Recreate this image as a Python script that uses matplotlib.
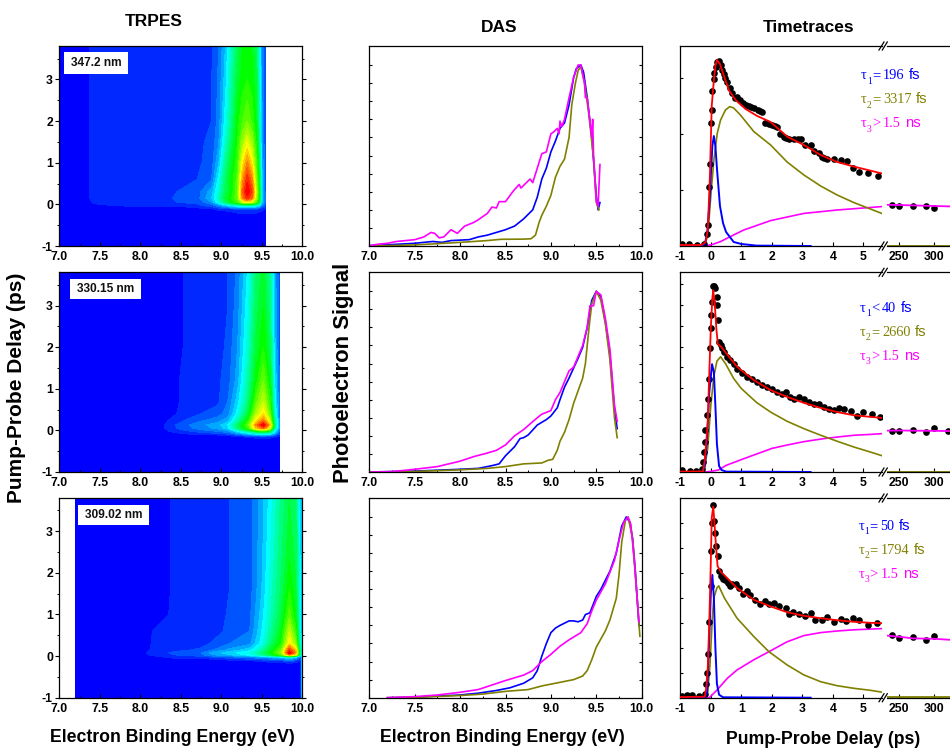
import matplotlib
matplotlib.use("Agg")
import matplotlib.pyplot as plt
import numpy as np
from matplotlib.colors import LinearSegmentedColormap
from matplotlib.lines import Line2D
from matplotlib.patches import Rectangle
from matplotlib.ticker import MultipleLocator

plt.rcParams['font.family'] = ['Liberation Sans', 'DejaVu Sans']
plt.rcParams['axes.unicode_minus'] = False

W, H = 950, 748

# --- TRPES maps: delay rows, energy columns, intensity (0..1) ---
map1_energy = [7.0, 7.3, 7.45, 7.9, 8.3, 8.45, 8.7, 8.88, 8.97, 9.05, 9.13, 9.2, 9.26, 9.32, 9.38, 9.43, 9.47, 9.5, 9.54]
map1_delay = [-1, -0.3, -0.12, -0.03, 0.05, 0.15, 0.3, 0.6, 1, 1.5, 2, 3, 3.8]
map1_z = [
    [0, 0, 0, 0, 0, 0, 0, 0, 0, 0, 0, 0, 0, 0, 0, 0, 0, 0, 0],
    [0, 0, 0, 0, 0, 0, 0, 0, 0, 0, 0, 0.01, 0.01, 0.01, 0.01, 0.01, 0.01, 0, 0],
    [0, 0, 0, 0, 0, 0, 0.02, 0.03, 0.05, 0.05, 0.06, 0.07, 0.07, 0.07, 0.07, 0.07, 0.06, 0.05, 0.04],
    [0, 0.01, 0.03, 0.05, 0.05, 0.05, 0.07, 0.1, 0.15, 0.2, 0.25, 0.28, 0.3, 0.3, 0.3, 0.28, 0.22, 0.14, 0.1],
    [0, 0.02, 0.05, 0.06, 0.06, 0.08, 0.09, 0.16, 0.28, 0.4, 0.5, 0.55, 0.68, 0.74, 0.68, 0.58, 0.42, 0.22, 0.12],
    [0, 0.03, 0.05, 0.07, 0.06, 0.09, 0.1, 0.2, 0.32, 0.45, 0.52, 0.6, 0.85, 0.94, 0.88, 0.66, 0.47, 0.24, 0.12],
    [0, 0.03, 0.05, 0.07, 0.06, 0.08, 0.1, 0.18, 0.3, 0.42, 0.5, 0.6, 0.88, 1.0, 0.92, 0.68, 0.48, 0.24, 0.12],
    [0, 0.03, 0.05, 0.07, 0.06, 0.06, 0.08, 0.12, 0.26, 0.4, 0.5, 0.58, 0.82, 0.95, 0.85, 0.62, 0.44, 0.22, 0.1],
    [0, 0.03, 0.05, 0.07, 0.06, 0.06, 0.07, 0.1, 0.2, 0.36, 0.47, 0.55, 0.74, 0.85, 0.75, 0.58, 0.4, 0.2, 0.1],
    [0, 0.03, 0.05, 0.07, 0.06, 0.06, 0.07, 0.09, 0.16, 0.3, 0.42, 0.52, 0.64, 0.72, 0.64, 0.52, 0.36, 0.18, 0.09],
    [0, 0.03, 0.05, 0.07, 0.05, 0.05, 0.06, 0.08, 0.14, 0.26, 0.38, 0.5, 0.56, 0.6, 0.55, 0.48, 0.33, 0.17, 0.09],
    [0, 0.03, 0.05, 0.07, 0.05, 0.05, 0.06, 0.08, 0.13, 0.22, 0.35, 0.45, 0.5, 0.52, 0.5, 0.45, 0.3, 0.16, 0.08],
    [0, 0.03, 0.05, 0.06, 0.05, 0.05, 0.05, 0.07, 0.12, 0.2, 0.32, 0.42, 0.48, 0.5, 0.47, 0.42, 0.28, 0.15, 0.08],
]

map2_energy = [7.0, 8.25, 8.35, 8.55, 8.75, 8.95, 9.08, 9.2, 9.33, 9.43, 9.52, 9.6, 9.66, 9.72]
map2_delay = [-1, -0.22, -0.15, -0.05, 0.05, 0.13, 0.25, 0.4, 0.7, 1.2, 2, 3, 3.8]
map2_z = [
    [0, 0, 0, 0, 0, 0, 0, 0, 0, 0, 0, 0, 0, 0],
    [0, 0, 0, 0, 0, 0, 0, 0.01, 0.01, 0.01, 0.01, 0.01, 0.01, 0.01],
    [0, 0, 0, 0, 0, 0, 0.02, 0.03, 0.06, 0.07, 0.08, 0.07, 0.05, 0.04],
    [0, 0, 0.03, 0.06, 0.08, 0.1, 0.12, 0.2, 0.28, 0.35, 0.38, 0.35, 0.22, 0.1],
    [0, 0.02, 0.06, 0.1, 0.14, 0.17, 0.22, 0.38, 0.55, 0.78, 0.88, 0.7, 0.34, 0.14],
    [0, 0.02, 0.06, 0.11, 0.15, 0.18, 0.24, 0.4, 0.58, 0.85, 1.0, 0.8, 0.38, 0.15],
    [0, 0, 0.04, 0.08, 0.11, 0.14, 0.18, 0.32, 0.52, 0.74, 0.85, 0.68, 0.34, 0.14],
    [0, 0, 0.02, 0.06, 0.08, 0.1, 0.14, 0.26, 0.44, 0.66, 0.76, 0.6, 0.3, 0.13],
    [0, 0, 0.02, 0.05, 0.06, 0.07, 0.12, 0.22, 0.38, 0.58, 0.68, 0.54, 0.26, 0.12],
    [0, 0, 0.02, 0.05, 0.05, 0.07, 0.1, 0.18, 0.34, 0.5, 0.6, 0.48, 0.24, 0.11],
    [0, 0, 0, 0.045, 0.05, 0.06, 0.09, 0.16, 0.3, 0.45, 0.52, 0.42, 0.21, 0.1],
    [0, 0, 0, 0.045, 0.05, 0.055, 0.08, 0.14, 0.27, 0.42, 0.48, 0.38, 0.19, 0.09],
    [0, 0, 0, 0.045, 0.05, 0.05, 0.08, 0.13, 0.25, 0.4, 0.46, 0.36, 0.18, 0.09],
]

map3_energy = [7.2, 8.0, 8.15, 8.4, 8.75, 8.9, 9.1, 9.35, 9.5, 9.62, 9.74, 9.84, 9.92, 9.98, 9.995]
map3_delay = [-1, -0.2, -0.12, -0.03, 0.03, 0.08, 0.15, 0.3, 0.6, 1, 1.6, 2.5, 3.8]
map3_z = [
    [0, 0, 0, 0, 0, 0, 0, 0, 0, 0, 0, 0, 0, 0.02, 0.22],
    [0, 0, 0, 0, 0, 0, 0, 0, 0, 0, 0, 0.01, 0.01, 0.02, 0.22],
    [0, 0, 0, 0, 0, 0, 0.02, 0.03, 0.05, 0.06, 0.07, 0.1, 0.07, 0.03, 0.22],
    [0, 0, 0.02, 0.05, 0.06, 0.08, 0.1, 0.13, 0.15, 0.18, 0.2, 0.25, 0.2, 0.08, 0.22],
    [0, 0.02, 0.05, 0.08, 0.11, 0.16, 0.2, 0.26, 0.35, 0.45, 0.58, 0.85, 0.72, 0.28, 0.3],
    [0, 0.02, 0.06, 0.085, 0.12, 0.18, 0.22, 0.28, 0.38, 0.5, 0.64, 1.0, 0.84, 0.32, 0.3],
    [0, 0, 0.05, 0.07, 0.085, 0.12, 0.17, 0.22, 0.33, 0.47, 0.6, 0.92, 0.78, 0.3, 0.3],
    [0, 0, 0.045, 0.06, 0.07, 0.085, 0.12, 0.15, 0.26, 0.4, 0.52, 0.76, 0.62, 0.26, 0.25],
    [0, 0, 0.04, 0.05, 0.06, 0.065, 0.09, 0.12, 0.24, 0.36, 0.48, 0.68, 0.54, 0.24, 0.22],
    [0, 0, 0.02, 0.045, 0.05, 0.06, 0.085, 0.11, 0.22, 0.33, 0.44, 0.58, 0.48, 0.23, 0.22],
    [0, 0, 0, 0.045, 0.05, 0.06, 0.08, 0.1, 0.2, 0.31, 0.41, 0.52, 0.45, 0.22, 0.22],
    [0, 0, 0, 0.045, 0.05, 0.055, 0.08, 0.1, 0.19, 0.29, 0.39, 0.47, 0.42, 0.21, 0.22],
    [0, 0, 0, 0.045, 0.05, 0.055, 0.08, 0.1, 0.18, 0.27, 0.37, 0.44, 0.4, 0.2, 0.22],
]

map_labels = ["347.2 nm", "330.15 nm", "309.02 nm"]

# --- DAS curves, each as (energy, signal) ---
das1_blue_e = [7.0, 7.25, 7.5, 7.7, 7.8, 7.9, 8.1, 8.2, 8.3, 8.4, 8.5, 8.6, 8.7, 8.8, 8.85, 8.9, 8.95, 9.0, 9.05, 9.1, 9.15, 9.2, 9.25, 9.28, 9.33, 9.36, 9.4, 9.45, 9.5, 9.52, 9.54]
das1_blue_y = [0.002, 0.008, 0.015, 0.025, 0.02, 0.03, 0.035, 0.05, 0.06, 0.075, 0.09, 0.11, 0.15, 0.2, 0.27, 0.37, 0.43, 0.52, 0.58, 0.65, 0.68, 0.78, 0.93, 0.98, 1.0, 0.96, 0.82, 0.6, 0.28, 0.2, 0.24]
das1_mag_e = [7.0, 7.1, 7.2, 7.3, 7.4, 7.5, 7.6, 7.68, 7.72, 7.77, 7.82, 7.9, 7.97, 8.05, 8.15, 8.2, 8.3, 8.35, 8.4, 8.43, 8.5, 8.58, 8.65, 8.67, 8.73, 8.77, 8.8, 8.85, 8.9, 8.95, 9.0, 9.03, 9.07, 9.09, 9.1, 9.12, 9.15, 9.2, 9.25, 9.3, 9.33, 9.37, 9.38, 9.4, 9.45, 9.46, 9.47, 9.5, 9.52, 9.54]
das1_mag_y = [0.002, 0.01, 0.015, 0.025, 0.03, 0.035, 0.05, 0.075, 0.07, 0.045, 0.05, 0.09, 0.07, 0.11, 0.13, 0.145, 0.18, 0.215, 0.21, 0.245, 0.245, 0.3, 0.34, 0.32, 0.35, 0.37, 0.35, 0.43, 0.51, 0.52, 0.62, 0.63, 0.65, 0.62, 0.69, 0.66, 0.7, 0.82, 0.93, 1.0, 1.0, 0.9, 0.82, 0.82, 0.6, 0.7, 0.5, 0.25, 0.22, 0.45]
das1_oli_e = [7.0, 7.5, 8.0, 8.3, 8.45, 8.7, 8.78, 8.83, 8.87, 8.9, 8.95, 9.0, 9.05, 9.1, 9.15, 9.2, 9.23, 9.27, 9.3, 9.33, 9.37, 9.42, 9.47, 9.5, 9.53]
das1_oli_y = [0, 0.006, 0.02, 0.03, 0.037, 0.038, 0.04, 0.06, 0.13, 0.17, 0.22, 0.28, 0.38, 0.44, 0.48, 0.6, 0.78, 0.9, 0.97, 0.99, 0.9, 0.72, 0.48, 0.24, 0.2]

das2_blue_e = [7.0, 7.5, 8.0, 8.2, 8.35, 8.43, 8.5, 8.6, 8.66, 8.7, 8.75, 8.85, 8.95, 9.0, 9.07, 9.1, 9.15, 9.2, 9.3, 9.35, 9.4, 9.45, 9.5, 9.55, 9.6, 9.65, 9.7, 9.73]
das2_blue_y = [0, 0.005, 0.015, 0.02, 0.035, 0.045, 0.09, 0.14, 0.185, 0.19, 0.205, 0.26, 0.29, 0.31, 0.355, 0.4, 0.47, 0.52, 0.63, 0.69, 0.8, 0.95, 1.0, 0.97, 0.83, 0.65, 0.35, 0.24]
das2_mag_e = [7.0, 7.25, 7.5, 7.75, 8.0, 8.15, 8.3, 8.4, 8.5, 8.6, 8.7, 8.78, 8.85, 8.9, 9.0, 9.05, 9.1, 9.15, 9.2, 9.25, 9.3, 9.35, 9.4, 9.43, 9.47, 9.5, 9.55, 9.6, 9.65, 9.7, 9.73]
das2_mag_y = [0, 0.002, 0.015, 0.03, 0.06, 0.085, 0.105, 0.12, 0.15, 0.2, 0.235, 0.27, 0.3, 0.32, 0.34, 0.4, 0.44, 0.5, 0.56, 0.58, 0.64, 0.7, 0.8, 0.92, 0.92, 1.0, 0.98, 0.85, 0.68, 0.37, 0.28]
das2_oli_e = [7.0, 7.5, 8.0, 8.3, 8.5, 8.7, 8.9, 8.97, 9.02, 9.07, 9.1, 9.15, 9.2, 9.25, 9.3, 9.35, 9.38, 9.42, 9.45, 9.5, 9.55, 9.6, 9.65, 9.7, 9.73]
das2_oli_y = [0, 0.003, 0.012, 0.02, 0.03, 0.045, 0.05, 0.065, 0.07, 0.12, 0.17, 0.22, 0.29, 0.38, 0.45, 0.52, 0.6, 0.8, 0.93, 1.0, 0.95, 0.82, 0.62, 0.3, 0.19]

das3_blue_e = [7.2, 7.5, 8.0, 8.2, 8.4, 8.55, 8.7, 8.8, 8.85, 8.9, 8.95, 9.0, 9.05, 9.1, 9.2, 9.25, 9.3, 9.35, 9.38, 9.43, 9.5, 9.55, 9.6, 9.65, 9.72, 9.78, 9.83, 9.87, 9.9, 9.93, 9.97]
das3_blue_y = [0, 0.003, 0.015, 0.025, 0.04, 0.055, 0.08, 0.11, 0.15, 0.23, 0.3, 0.36, 0.385, 0.4, 0.425, 0.425, 0.42, 0.43, 0.46, 0.47, 0.56, 0.6, 0.65, 0.7, 0.8, 0.95, 1.0, 0.97, 0.88, 0.7, 0.4]
das3_mag_e = [7.2, 7.5, 7.75, 8.0, 8.2, 8.35, 8.5, 8.6, 8.7, 8.8, 8.9, 9.0, 9.1, 9.2, 9.33, 9.4, 9.45, 9.5, 9.6, 9.7, 9.75, 9.8, 9.85, 9.88, 9.92, 9.97]
das3_mag_y = [0, 0.006, 0.015, 0.03, 0.045, 0.07, 0.095, 0.11, 0.125, 0.15, 0.2, 0.24, 0.285, 0.32, 0.36, 0.41, 0.48, 0.54, 0.63, 0.76, 0.87, 0.97, 1.0, 0.96, 0.75, 0.42]
das3_oli_e = [7.2, 7.5, 8.0, 8.25, 8.5, 8.75, 8.9, 9.1, 9.25, 9.35, 9.4, 9.45, 9.5, 9.6, 9.65, 9.72, 9.75, 9.78, 9.82, 9.85, 9.9, 9.93, 9.98]
das3_oli_y = [0, 0.002, 0.012, 0.02, 0.035, 0.045, 0.065, 0.085, 0.1, 0.12, 0.15, 0.21, 0.28, 0.37, 0.43, 0.55, 0.68, 0.86, 0.98, 1.0, 0.88, 0.68, 0.34]

# --- Time traces, signal as fraction of the panel height ---
dots1_t = [-0.96, -0.72, -0.45, -0.23, -0.14, -0.10, -0.07, -0.03, 0.01, 0.04, 0.05, 0.10, 0.12, 0.16, 0.21, 0.26, 0.32, 0.37, 0.42, 0.48, 0.54, 0.62, 0.70, 0.78, 0.86, 0.97, 1.05, 1.14, 1.25, 1.33, 1.41, 1.54, 1.60, 1.68, 1.79, 1.90, 2.01, 2.10, 2.17, 2.28, 2.39, 2.48, 2.56, 2.72, 2.85, 2.96, 3.10, 3.27, 3.38, 3.54, 3.65, 3.72, 3.81, 4.03, 4.27, 4.47, 4.67, 4.86, 5.16, 5.48]
dots1_y = [0.01, 0.008, 0.005, 0.01, 0.06, 0.105, 0.297, 0.408, 0.613, 0.68, 0.777, 0.833, 0.863, 0.897, 0.922, 0.927, 0.905, 0.88, 0.86, 0.838, 0.822, 0.788, 0.763, 0.738, 0.743, 0.73, 0.715, 0.705, 0.70, 0.695, 0.688, 0.68, 0.677, 0.672, 0.617, 0.61, 0.605, 0.60, 0.597, 0.56, 0.547, 0.54, 0.533, 0.537, 0.535, 0.533, 0.505, 0.505, 0.475, 0.467, 0.447, 0.44, 0.435, 0.433, 0.43, 0.427, 0.388, 0.368, 0.365, 0.352]
dots1_late_t = [239, 249, 269, 288, 299.5]
dots1_late_y = [0.203, 0.202, 0.202, 0.2, 0.192]
red1_t = [-1, -0.3, -0.17, -0.1, -0.03, 0.03, 0.1, 0.15, 0.2, 0.3, 0.43, 0.59, 0.81, 1.14, 1.52, 1.96, 2.5, 3.05, 3.6, 4.14, 4.69, 5.23, 5.6]
red1_y = [0.005, 0.005, 0.02, 0.08, 0.35, 0.7, 0.83, 0.9, 0.93, 0.91, 0.85, 0.78, 0.73, 0.685, 0.65, 0.62, 0.547, 0.505, 0.455, 0.42, 0.397, 0.377, 0.363]
blue1_t = [-1, -0.3, -0.2, -0.12, -0.05, 0, 0.05, 0.1, 0.15, 0.2, 0.3, 0.4, 0.5, 0.75, 1, 1.5, 3.27]
blue1_y = [0, 0, 0.01, 0.06, 0.2, 0.35, 0.5, 0.55, 0.5, 0.39, 0.2, 0.115, 0.07, 0.02, 0.01, 0.002, 0]
olive1_t = [-1, -0.3, -0.2, -0.1, 0, 0.1, 0.21, 0.32, 0.48, 0.62, 0.75, 0.97, 1.41, 1.96, 2.5, 3.05, 3.6, 4.14, 4.69, 5.23, 5.6]
olive1_y = [0, 0, 0.01, 0.05, 0.25, 0.43, 0.563, 0.63, 0.68, 0.697, 0.69, 0.655, 0.572, 0.505, 0.42, 0.355, 0.30, 0.255, 0.217, 0.185, 0.163]
mag1_t = [-1, -0.25, 0, 0.32, 0.64, 1.08, 1.96, 3.05, 4.14, 5.6]
mag1_y = [0, 0, 0.005, 0.022, 0.047, 0.08, 0.127, 0.163, 0.18, 0.197]
mag1_late_t = [232, 250, 270, 300, 322]
mag1_late_y = [0.206, 0.205, 0.203, 0.2, 0.198]

dots2_t = [-0.96, -0.69, -0.47, -0.28, -0.26, -0.23, -0.20, -0.18, -0.14, -0.10, -0.07, -0.03, -0.01, 0.01, 0.04, 0.08, 0.10, 0.15, 0.19, 0.21, 0.24, 0.27, 0.32, 0.37, 0.43, 0.54, 0.64, 0.75, 0.86, 1.03, 1.19, 1.36, 1.52, 1.68, 1.85, 2.01, 2.17, 2.34, 2.48, 2.59, 2.72, 2.89, 3.05, 3.21, 3.38, 3.54, 3.70, 3.87, 4.03, 4.20, 4.38, 4.58, 4.78, 4.98, 5.29, 5.56]
dots2_y = [0.008, 0.005, 0.005, 0.017, 0.05, 0.10, 0.15, 0.21, 0.284, 0.368, 0.468, 0.619, 0.719, 0.786, 0.853, 0.933, 0.933, 0.92, 0.875, 0.836, 0.76, 0.652, 0.635, 0.619, 0.599, 0.577, 0.56, 0.543, 0.518, 0.498, 0.477, 0.468, 0.452, 0.438, 0.426, 0.415, 0.401, 0.393, 0.401, 0.376, 0.368, 0.376, 0.368, 0.351, 0.343, 0.343, 0.326, 0.314, 0.309, 0.318, 0.313, 0.304, 0.281, 0.298, 0.289, 0.276]
dots2_late_t = [239, 249, 269, 288, 299.5, 320]
dots2_late_y = [0.206, 0.207, 0.209, 0.2, 0.219, 0.206]
red2_t = [-1, -0.25, -0.2, -0.15, -0.1, -0.05, 0, 0.05, 0.08, 0.13, 0.18, 0.23, 0.32, 0.86, 1.41, 1.96, 2.5, 3.05, 3.6, 4.14, 4.69, 5.23, 5.6]
red2_y = [0.002, 0.003, 0.06, 0.15, 0.25, 0.5, 0.72, 0.87, 0.91, 0.84, 0.72, 0.64, 0.63, 0.527, 0.46, 0.41, 0.376, 0.346, 0.321, 0.30, 0.284, 0.276, 0.271]
blue2_t = [-1, -0.3, -0.2, -0.12, -0.05, 0.04, 0.1, 0.15, 0.2, 0.27, 0.35, 0.5, 3.27]
blue2_y = [0, 0, 0.03, 0.18, 0.4, 0.54, 0.5, 0.33, 0.14, 0.03, 0.01, 0.002, 0]
olive2_t = [-1, -0.3, -0.2, -0.1, 0, 0.1, 0.2, 0.32, 0.48, 0.75, 1.0, 1.5, 1.96, 2.5, 3.05, 3.6, 4.14, 4.69, 5.23, 5.6]
olive2_y = [0, 0, 0.02, 0.12, 0.334, 0.48, 0.555, 0.577, 0.543, 0.468, 0.418, 0.348, 0.30, 0.254, 0.217, 0.184, 0.154, 0.125, 0.10, 0.082]
mag2_t = [-1, -0.2, 0, 0.25, 0.5, 1, 1.5, 2, 2.5, 3.05, 3.7, 4.2, 4.7, 5.2, 5.6]
mag2_y = [0, 0, 0.003, 0.01, 0.033, 0.062, 0.09, 0.118, 0.135, 0.152, 0.167, 0.176, 0.184, 0.188, 0.192]
mag2_late_t = [232, 250, 270, 300, 322]
mag2_late_y = [0.207, 0.208, 0.207, 0.206, 0.205]

dots3_t = [-0.96, -0.78, -0.61, -0.39, -0.2, -0.15, -0.14, -0.10, -0.05, -0.01, 0.01, 0.04, 0.07, 0.11, 0.14, 0.17, 0.23, 0.28, 0.34, 0.40, 0.48, 0.56, 0.62, 0.70, 0.81, 0.92, 1.06, 1.17, 1.30, 1.46, 1.61, 1.77, 1.90, 2.07, 2.23, 2.45, 2.56, 2.70, 2.89, 3.10, 3.27, 3.43, 3.65, 3.81, 4.03, 4.25, 4.44, 4.66, 4.85, 5.15, 5.45]
dots3_y = [0.008, 0.013, 0.015, 0.008, 0.018, 0.067, 0.125, 0.22, 0.38, 0.557, 0.736, 0.875, 0.967, 0.886, 0.825, 0.761, 0.71, 0.632, 0.61, 0.594, 0.587, 0.574, 0.557, 0.569, 0.569, 0.549, 0.518, 0.532, 0.515, 0.49, 0.47, 0.482, 0.468, 0.473, 0.457, 0.448, 0.418, 0.431, 0.42, 0.41, 0.423, 0.39, 0.39, 0.403, 0.381, 0.393, 0.386, 0.398, 0.39, 0.363, 0.373]
dots3_late_t = [239, 249, 269, 288, 299.5]
dots3_late_y = [0.315, 0.301, 0.306, 0.289, 0.311]
red3_t = [-1, -0.2, -0.15, -0.1, -0.05, 0, 0.03, 0.08, 0.13, 0.17, 0.22, 0.32, 0.86, 1.41, 1.96, 2.5, 3.05, 3.6, 4.14, 4.69, 5.23, 5.6]
red3_y = [0.003, 0.005, 0.05, 0.15, 0.38, 0.68, 0.9, 0.958, 0.85, 0.76, 0.66, 0.632, 0.549, 0.49, 0.457, 0.428, 0.41, 0.398, 0.388, 0.38, 0.375, 0.373]
blue3_t = [-1, -0.2, -0.12, -0.05, 0, 0.05, 0.1, 0.15, 0.2, 0.27, 0.4, 3.27]
blue3_y = [0, 0, 0.03, 0.3, 0.52, 0.615, 0.5, 0.25, 0.07, 0.015, 0.002, 0]
olive3_t = [-1, -0.2, -0.1, -0.03, 0.05, 0.1, 0.2, 0.26, 0.32, 0.45, 0.86, 1.41, 1.9, 2.5, 3.05, 3.6, 4.14, 4.69, 5.23, 5.6]
olive3_y = [0, 0, 0.03, 0.16, 0.4, 0.5, 0.55, 0.56, 0.54, 0.498, 0.398, 0.306, 0.231, 0.164, 0.114, 0.08, 0.06, 0.047, 0.037, 0.028]
mag3_t = [-1, -0.05, 0.2, 0.54, 0.86, 1.41, 1.9, 2.5, 3.05, 3.6, 4.14, 4.69, 5.6]
mag3_y = [0, 0, 0.038, 0.097, 0.139, 0.19, 0.23, 0.28, 0.311, 0.326, 0.334, 0.34, 0.346]
mag3_late_t = [232, 250, 270, 300, 322]
mag3_late_y = [0.311, 0.305, 0.297, 0.295, 0.29]

late_base_t = [232, 322.5]
late_base_y = [0.002, 0.002]

tau_signs = [["=", "=", ">"], ["<", "=", ">"], ["=", "=", ">"]]
tau_values = [["196", "3317", "1.5"], ["40", "2660", "1.5"], ["50", "1794", "1.5"]]
tau_units = ["fs", "fs", "ns"]

BLUE = '#0000ff'
OLIVE = '#808000'
MAGENTA = '#ff00ff'
RED = '#ff0000'

row_top = [46, 272.3, 498]
row_bottom = [246, 472, 697.7]
trace_tick_step = [0.28, 0.1047, 0.125]
tau_x = [861, 860, 858.5]
tau_y = [79, 312, 530]
label_box = [(64, 52, 128, 74), (70, 279, 141, 299), (78, 505, 149, 525)]

rainbow = LinearSegmentedColormap.from_list('rainbow5', ['#0000ff', '#00ffff', '#00ff00', '#ffff00', '#ff0000'])
band_levels = np.linspace(0, 1.001, 26)
band_colors = [rainbow(i / 24) for i in range(25)]

fig = plt.figure(figsize=(W / 100, H / 100), dpi=100, facecolor='white')
renderer = fig.canvas.get_renderer()


def px_axes(left, top, right, bottom):
    return fig.add_axes([left / W, 1 - bottom / H, (right - left) / W, (bottom - top) / H])


def fig_text(x, y, s, **kw):
    fig.text(x / W, 1 - y / H, s, ha='center', va='center', fontweight='bold', **kw)


def tidy(ax):
    for sp in ax.spines.values():
        sp.set_linewidth(0.9)
    ax.tick_params(which='major', length=2.6, width=0.8, pad=2, labelsize=8.8)
    ax.tick_params(which='minor', length=1.5, width=0.7)
    ax.tick_params(axis='x', which='both', direction='in', pad=3.5)
    for t in ax.get_xticklabels() + ax.get_yticklabels():
        t.set_fontweight('bold')


def tau_text(x, y, number, sign, value, unit, color):
    # tau, lowered index, then digits in Times and the unit in Arial, as in the original
    fig.text(x / W, 1 - y / H, '\u03c4', color=color, fontsize=10.5, family='Liberation Serif')
    fig.text((x + 6) / W, 1 - (y + 4.5) / H, str(number), color=color, fontsize=7, family='Liberation Serif')
    fig.text((x + 11) / W, 1 - y / H, sign, color=color, fontsize=10.5, family='Liberation Serif')
    t = fig.text((x + 22) / W, 1 - y / H, value, color=color, fontsize=10.3, family='Liberation Serif')
    end = t.get_window_extent(renderer).x1
    fig.text((end + 4.5) / W, 1 - y / H, unit, color=color, fontsize=10.6)


map_energy = [map1_energy, map2_energy, map3_energy]
map_delay = [map1_delay, map2_delay, map3_delay]
map_z = [map1_z, map2_z, map3_z]
das_sets = [
    (das1_blue_e, das1_blue_y, das1_oli_e, das1_oli_y, das1_mag_e, das1_mag_y),
    (das2_blue_e, das2_blue_y, das2_oli_e, das2_oli_y, das2_mag_e, das2_mag_y),
    (das3_blue_e, das3_blue_y, das3_oli_e, das3_oli_y, das3_mag_e, das3_mag_y),
]
trace_sets = [
    (dots1_t, dots1_y, dots1_late_t, dots1_late_y, red1_t, red1_y, blue1_t, blue1_y, olive1_t, olive1_y, mag1_t, mag1_y, mag1_late_t, mag1_late_y),
    (dots2_t, dots2_y, dots2_late_t, dots2_late_y, red2_t, red2_y, blue2_t, blue2_y, olive2_t, olive2_y, mag2_t, mag2_y, mag2_late_t, mag2_late_y),
    (dots3_t, dots3_y, dots3_late_t, dots3_late_y, red3_t, red3_y, blue3_t, blue3_y, olive3_t, olive3_y, mag3_t, mag3_y, mag3_late_t, mag3_late_y),
]

for i in range(3):
    top, bottom = row_top[i], row_bottom[i]

    # TRPES map
    ax = px_axes(59.3, top, 302.3, bottom)
    ax.contourf(map_energy[i], map_delay[i], np.array(map_z[i]), levels=band_levels, colors=band_colors, antialiased=False)
    ax.set_xlim(7, 10)
    ax.set_ylim(-1, 3.8)
    ax.set_xticks([7, 7.5, 8, 8.5, 9, 9.5, 10])
    ax.set_xticklabels(['7.0', '7.5', '8.0', '8.5', '9.0', '9.5', '10.0'])
    ax.set_yticks([-1, 0, 1, 2, 3])
    ax.xaxis.set_minor_locator(MultipleLocator(0.25))
    ax.yaxis.set_minor_locator(MultipleLocator(0.5))
    ax.tick_params(which='both', right=True, top=False)
    ax.set_axisbelow(False)
    tidy(ax)
    x0, y0, x1, y1 = label_box[i]
    fig.add_artist(Rectangle((x0 / W, 1 - y1 / H), (x1 - x0) / W, (y1 - y0) / H, transform=fig.transFigure, facecolor='white', edgecolor='none'))
    fig_text((x0 + x1) / 2, (y0 + y1) / 2, map_labels[i], fontsize=8.6, color='#111111', zorder=5)

    # DAS
    ax = px_axes(369.3, top, 641.7, bottom)
    be, by, oe, oy, me, my = das_sets[i]
    ax.plot(be, by, color=BLUE, lw=1.2)
    ax.plot(oe, oy, color=OLIVE, lw=1.2)
    ax.plot(me, my, color=MAGENTA, lw=1.2)
    ax.set_xlim(7, 10)
    ax.set_ylim(0, 1.105)
    ax.set_xticks([7, 7.5, 8, 8.5, 9, 9.5, 10])
    ax.set_xticklabels(['7.0', '7.5', '8.0', '8.5', '9.0', '9.5', '10.0'])
    ax.xaxis.set_minor_locator(MultipleLocator(0.25))
    ax.set_yticks(np.arange(0.1, 1.05, 0.1))
    tidy(ax)
    ax.tick_params(axis='y', which='major', left=True, right=True, labelleft=False, direction='in', length=2)

    # Time traces, broken x axis
    dt, dy, lt, ly, rt, ry, bt, by, ot, oy, mt, my, mlt, mly = trace_sets[i]
    left = px_axes(680.3, top, 881.7, bottom)
    right = px_axes(886.7, top, 950, bottom)
    left.plot(mt, my, color=MAGENTA, lw=1.2, zorder=2)
    left.plot(ot, oy, color=OLIVE, lw=1.2, zorder=2)
    left.plot(dt, dy, 'o', color='black', ms=4.8, mew=0, zorder=3)
    left.plot(bt, by, color=BLUE, lw=1.4, zorder=4)
    left.plot(rt, ry, color=RED, lw=1.3, zorder=5)
    left.set_xlim(-1, 5.6)
    left.set_ylim(0, 1)
    left.set_xticks([-1, 0, 1, 2, 3, 4, 5])
    left.set_yticks(np.arange(trace_tick_step[i], 0.99, trace_tick_step[i]))
    left.spines['right'].set_visible(False)
    tidy(left)
    left.tick_params(axis='y', which='major', direction='in', length=2, labelleft=False)

    right.plot(late_base_t, late_base_y, color=OLIVE, lw=1.3, zorder=2)
    right.plot(lt, ly, 'o', color='black', ms=4.8, mew=0, zorder=3)
    right.plot(mlt, mly, color=MAGENTA, lw=1.3, zorder=4)
    right.set_xlim(232, 322.5)
    right.set_ylim(0, 1)
    right.set_xticks([250, 300])
    right.set_yticks([])
    right.spines['left'].set_visible(False)
    right.spines['right'].set_visible(False)
    tidy(right)

    # break marks on the x axis, top and bottom
    for yb in (top, bottom):
        for xb in (881.5, 884.8):
            fig.add_artist(Line2D([(xb - 2.5) / W, (xb + 2.5) / W], [1 - (yb + 4) / H, 1 - (yb - 4) / H], color='black', lw=0.9, transform=fig.transFigure))

    # tau labels
    for j, col in enumerate((BLUE, OLIVE, MAGENTA)):
        tau_text(tau_x[i], tau_y[i] + j * 24, j + 1, tau_signs[i][j], tau_values[i][j], tau_units[j], col)

# titles and axis labels
fig_text(154, 22, 'TRPES', fontsize=12.5)
fig_text(499, 27, 'DAS', fontsize=12.5)
fig_text(809, 27, 'Timetraces', fontsize=12.5)
fig_text(172.5, 738, 'Electron Binding Energy (eV)', fontsize=12.7)
fig_text(502.5, 738, 'Electron Binding Energy (eV)', fontsize=12.7)
fig_text(823, 739, 'Pump-Probe Delay (ps)', fontsize=12.7)
fig_text(17, 388, 'Pump-Probe Delay (ps)', fontsize=15, rotation=90)
fig_text(343, 373, 'Photoelectron Signal', fontsize=15.8, rotation=90)

fig.savefig('out.png', dpi=100)
